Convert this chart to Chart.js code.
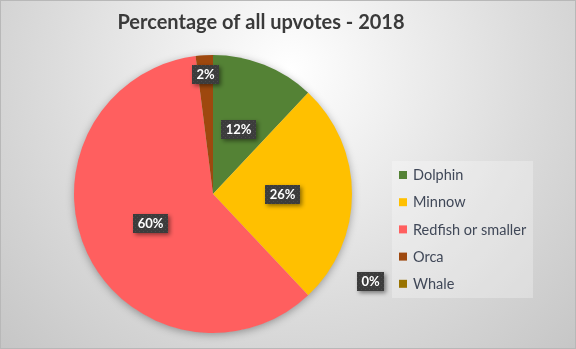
<!DOCTYPE html>
<html lang="en">
<head>
<meta charset="UTF-8">
<title>Percentage of all upvotes - 2018</title>
<script src="https://cdn.jsdelivr.net/npm/chart.js"></script>
<style>
  html, body { margin: 0; padding: 0; background: #fff; }
  canvas { display: block; }
</style>
</head>
<body>
<canvas id="pieChart" width="576" height="349"></canvas>
<script>
// upvote share per account size, in percent
const categories = ['Dolphin', 'Minnow', 'Redfish or smaller', 'Orca', 'Whale'];
const shares = [12, 26, 60, 2, 0];
const sliceColors = ['#548235', '#FFC000', '#FF5F5F', '#9E480E', '#997300'];
const chartTitle = 'Percentage of all upvotes - 2018';

const FONT = 'Lato, "Open Sans", sans-serif';
const legendBox = { left: 392, top: 161, width: 141, height: 137, rowStart: 14, rowGap: 27.2 };

// soft grey panel behind everything
const panelBackground = {
    id: 'panelBackground',
    beforeDraw(chart) {
        const { ctx, width, height } = chart;
        ctx.save();
        const g = ctx.createRadialGradient(290, 70, 0, 290, 70, 430);
        g.addColorStop(0, '#ffffff');
        g.addColorStop(0.55, '#dcdcdc');
        g.addColorStop(1, '#c2c2c2');
        ctx.fillStyle = g;
        ctx.fillRect(0, 0, width, height);
        ctx.strokeStyle = '#b8b8b8';
        ctx.lineWidth = 1;
        ctx.strokeRect(0.5, 0.5, width - 1, height - 1);

        ctx.fillStyle = '#3a3a3a';
        ctx.font = 'bold 20px ' + FONT;
        ctx.textAlign = 'center';
        ctx.textBaseline = 'middle';
        ctx.fillText(chartTitle, 261, 23);
        ctx.restore();
    }
};

// faint halo under the pie
const pieShadow = {
    id: 'pieShadow',
    beforeDatasetsDraw(chart) {
        const arc = chart.getDatasetMeta(0).data[0];
        if (!arc) return;
        const { ctx } = chart;
        ctx.save();
        ctx.shadowColor = 'rgba(0,0,0,0.35)';
        ctx.shadowBlur = 9;
        ctx.shadowOffsetY = 2;
        ctx.fillStyle = '#d0d0d0';
        ctx.beginPath();
        ctx.arc(arc.x, arc.y, arc.outerRadius - 0.5, 0, Math.PI * 2);
        ctx.fill();
        ctx.restore();
    }
};

// legend on the right with its own light box
const sideLegend = {
    id: 'sideLegend',
    afterDraw(chart) {
        const { ctx } = chart;
        ctx.save();
        ctx.fillStyle = 'rgba(255,255,255,0.28)';
        ctx.fillRect(legendBox.left, legendBox.top, legendBox.width, legendBox.height);
        ctx.font = '14.5px ' + FONT;
        ctx.textBaseline = 'middle';
        ctx.textAlign = 'left';
        categories.forEach((name, i) => {
            const y = legendBox.top + legendBox.rowStart + i * legendBox.rowGap;
            ctx.fillStyle = sliceColors[i];
            ctx.fillRect(legendBox.left + 7, y - 4, 8, 8);
            ctx.fillStyle = '#404858';
            ctx.fillText(name, legendBox.left + 21, y + 0.5);
        });
        ctx.restore();
    }
};

let dotPattern = null;
function labelFill(ctx) {
    if (!dotPattern) {
        const c = document.createElement('canvas');
        c.width = 4; c.height = 4;
        const p = c.getContext('2d');
        p.fillStyle = '#3c3c3c';
        p.fillRect(0, 0, 4, 4);
        p.fillStyle = '#4a4a4a';
        p.fillRect(1, 1, 1, 1);
        p.fillRect(3, 3, 1, 1);
        dotPattern = ctx.createPattern(c, 'repeat');
    }
    return dotPattern;
}

// dark percentage tags on each slice
const valueTags = {
    id: 'valueTags',
    afterDraw(chart) {
        const { ctx } = chart;
        const meta = chart.getDatasetMeta(0);
        ctx.save();
        ctx.font = 'bold 13px ' + FONT;
        ctx.textAlign = 'center';
        ctx.textBaseline = 'middle';
        meta.data.forEach((arc, i) => {
            const v = shares[i];
            const { x, y, startAngle, endAngle, outerRadius } =
                arc.getProps(['x', 'y', 'startAngle', 'endAngle', 'outerRadius'], true);
            let px, py;
            if (v === 0) {
                px = legendBox.left - 22;
                py = legendBox.top + legendBox.rowStart + i * legendBox.rowGap - 2;
            } else {
                const mid = (startAngle + endAngle) / 2;
                const r = v < 5 ? outerRadius * 0.86 : outerRadius * 0.5;
                px = x + Math.cos(mid) * r;
                py = y + Math.sin(mid) * r;
            }
            const text = v + '%';
            const w = Math.round(ctx.measureText(text).width) + 9;
            const h = 19;
            const bx = Math.round(px - w / 2), by = Math.round(py - h / 2);
            ctx.save();
            ctx.shadowColor = 'rgba(0,0,0,0.45)';
            ctx.shadowBlur = 4;
            ctx.shadowOffsetX = 2;
            ctx.shadowOffsetY = 2;
            ctx.fillStyle = labelFill(ctx);
            ctx.fillRect(bx, by, w, h);
            ctx.restore();
            ctx.fillStyle = '#ffffff';
            ctx.fillText(text, bx + w / 2, by + h / 2 + 0.5);
        });
        ctx.restore();
    }
};

new Chart(document.getElementById('pieChart'), {
    type: 'pie',
    data: {
        labels: categories,
        datasets: [{
            data: shares,
            backgroundColor: sliceColors,
            borderWidth: 0
        }]
    },
    options: {
        responsive: false,
        animation: false,
        layout: { padding: { top: 55, bottom: 16, left: 0, right: 150 } },
        plugins: {
            legend: { display: false },
            title: { display: false },
            tooltip: { enabled: false }
        }
    },
    plugins: [panelBackground, pieShadow, sideLegend, valueTags]
});
</script>
</body>
</html>
